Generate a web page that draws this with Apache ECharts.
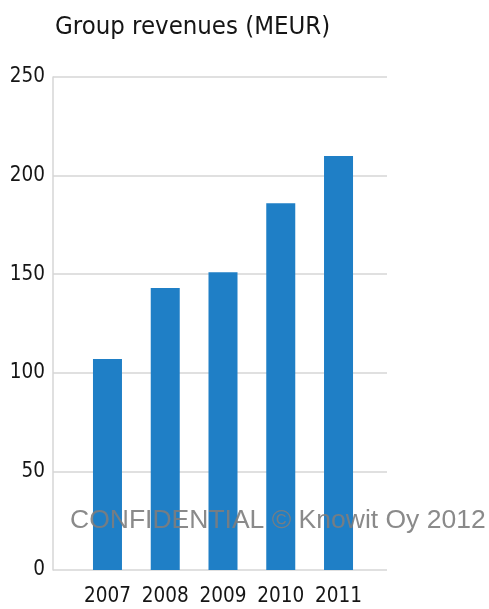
<!DOCTYPE html>
<html>
<head>
<meta charset="utf-8">
<script src="https://cdn.jsdelivr.net/npm/echarts@6/dist/echarts.min.js"></script>
<style>
html,body{margin:0;padding:0;background:#fff;}
#main{width:489px;height:609px;}
</style>
</head>
<body>
<div id="main"></div>
<script>
var titleText = 'Group revenues (MEUR)';
var years = ['2007', '2008', '2009', '2010', '2011'];
var revenues = [107, 143, 151, 186, 210];
var yTicks = [0, 50, 100, 150, 200, 250];
var watermark = 'CONFIDENTIAL \u00A9 Knowit Oy 2012';

var chart = echarts.init(document.getElementById('main'), null, {renderer: 'canvas'});
var narrow = '"Liberation Sans Narrow", "DejaVu Sans Condensed", "Liberation Sans", sans-serif';
var font = '"Liberation Sans", Arial, sans-serif';
var option = {
  animation: false,
  backgroundColor: '#fff',
  title: {
    text: titleText,
    left: 50, top: 9,
    textStyle: {fontFamily: narrow, fontSize: 25.5, fontWeight: 'normal', color: '#151515'}
  },
  grid: [
    {left: 78.6, right: 121.6, top: 77, bottom: 39},
    {left: 53, right: 102, top: 77, bottom: 39}
  ],
  xAxis: [
    {
      type: 'category', gridIndex: 0, data: years,
      axisLine: {show: false}, axisTick: {show: false},
      axisLabel: {fontFamily: narrow, fontSize: 20.5, color: '#151515', margin: 16, interval: 0}
    },
    {
      type: 'value', gridIndex: 1, min: 0, max: 1, show: false
    }
  ],
  yAxis: [
    {
      type: 'value', gridIndex: 0, min: 0, max: yTicks[yTicks.length - 1], interval: 50,
      show: false
    },
    {
      type: 'value', gridIndex: 1, min: 0, max: yTicks[yTicks.length - 1], interval: 50,
      axisLine: {show: true, lineStyle: {color: '#d6d6d6', width: 1.5}},
      axisTick: {show: false},
      splitLine: {lineStyle: {color: '#d6d6d6', width: 1.5}},
      axisLabel: {fontFamily: narrow, fontSize: 20.5, color: '#151515', margin: 8,
        formatter: function (v) { return yTicks.indexOf(v) >= 0 ? String(v) : ''; }}
    }
  ],
  series: [
    {
      type: 'bar', xAxisIndex: 0, yAxisIndex: 0,
      data: revenues, barWidth: 29,
      itemStyle: {color: '#1f7fc6'}, z: 3
    }
  ],
  graphic: [
    {
      type: 'text', left: 70, top: 507, z: 100,
      style: {text: watermark, fontFamily: font, fontSize: 26.5, fill: 'rgba(125,125,125,0.9)'}
    }
  ]
};
chart.setOption(option);
</script>
</body>
</html>
